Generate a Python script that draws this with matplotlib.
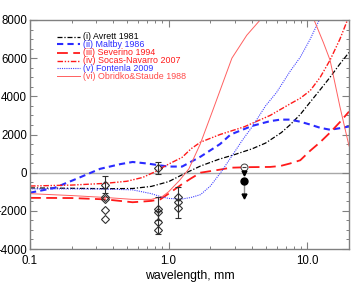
import numpy as np
import matplotlib
matplotlib.use('Agg')
import matplotlib.pyplot as plt
from matplotlib.ticker import MultipleLocator, LogLocator, NullFormatter

plt.rcParams['font.family'] = ['Liberation Sans', 'DejaVu Sans']

#####################################################################
# model curves (wavelength in mm)
#####################################################################
wl_avrett = [0.1, 0.2, 0.35, 0.55, 0.75, 1.0, 1.3, 1.7, 2.3, 3.0, 4.0, 5.0, 6.5, 7.5, 8.9, 10.5, 12.4, 14.6, 17.2, 20.0]
t_avrett = [-800, -820, -840, -830, -720, -470, -50, 350, 700, 950, 1250, 1550, 2100, 2500, 3050, 3700, 4350, 5000, 5700, 6300]

wl_maltby = [0.1, 0.15, 0.22, 0.32, 0.45, 0.55, 0.7, 0.87, 1.0, 1.25, 1.7, 2.35, 2.8, 4.0, 5.4, 6.4, 7.5, 8.9, 10.5, 12.4, 14.6, 17.2, 20.0]
t_maltby = [-1050, -800, -300, 200, 450, 560, 480, 380, 320, 320, 840, 1500, 2000, 2450, 2700, 2780, 2780, 2670, 2520, 2350, 2250, 2330, 2420]

wl_severino = [0.1, 0.2, 0.35, 0.55, 0.75, 0.87, 1.0, 1.25, 1.45, 1.7, 2.35, 2.8, 3.9, 5.4, 6.4, 7.5, 8.9, 10.5, 12.4, 14.6, 17.2, 20.0]
t_severino = [-1320, -1330, -1400, -1550, -1480, -1400, -1100, -600, -300, 0, 160, 260, 290, 300, 350, 480, 650, 1150, 1600, 2100, 2650, 3200]

wl_socas = [0.1, 0.2, 0.35, 0.5, 0.65, 0.8, 1.0, 1.25, 1.45, 1.7, 2.35, 3.5, 5.4, 7.5, 8.9, 10.5, 12.4, 14.6, 17.2, 20.0]
t_socas = [-700, -650, -560, -450, -250, 50, 450, 800, 1250, 1600, 2000, 2400, 3000, 3600, 3900, 4300, 5000, 5900, 7000, 8200]

wl_fontenla = [0.1, 0.2, 0.35, 0.55, 0.75, 0.87, 1.0, 1.25, 1.45, 1.7, 2.0, 2.4, 3.0, 3.4, 4.0, 5.0, 6.0, 7.5, 8.9, 10.5, 12.2, 14.0]
t_fontenla = [-850, -850, -860, -900, -1100, -1250, -1350, -1380, -1300, -1150, -700, 50, 1100, 1700, 2400, 3500, 4200, 5300, 6050, 7000, 8000, 9000]

wl_obridko = [0.1, 0.2, 0.35, 0.55, 0.75, 0.9, 1.0, 1.2, 1.4, 1.69, 2.09, 2.86, 3.66, 4.57, 6.0, 8.0, 10.0, 11.2, 13.1, 14.6, 17.2, 20.0]
t_obridko = [-1100, -1200, -1300, -1400, -1400, -1250, -1000, -400, 200, 1500, 3300, 6000, 7200, 8000, 8700, 8900, 8500, 8000, 6800, 5900, 3460, 1400]

labels = ['(i) Avrett 1981', '(ii) Maltby 1986', '(iii) Severino 1994',
          '(iv) Socas-Navarro 2007', '(v) Fontenla 2009', '(vi) Obridko&Staude 1988']

#####################################################################
# observations
#####################################################################
# open diamonds
wl_dia = [0.35, 0.35, 0.35, 0.35, 0.35, 0.84, 0.84, 0.84, 0.84, 0.84, 1.17, 1.17, 1.17]
t_dia = [-630, -1300, -1400, -1950, -2450, 250, -1900, -2050, -2600, -3000, -1250, -1550, -1830]
# points carrying error bars
wl_err = [0.35, 0.84, 0.84, 0.84, 1.17]
t_err = [-630, 250, -1900, -2600, -1550]
e_err = [440, 320, 600, 600, 800]
# 3.5 mm: filled circle with upper limit, open circle with upper limit
wl_lim = 3.5
t_filled = -420
t_filled_lim = -1240
t_open = 280
t_open_lim = -20

#####################################################################
# plotting
#####################################################################
fig = plt.figure(figsize=(3.64, 2.91), dpi=100)
ax = fig.add_axes([30/364., 1-249/291., 319/364., 229/291.])

ax.axhline(0, color='#a8a8a8', lw=1.0, zorder=1)

styles = [
    dict(color='black', lw=0.9, dashes=(4, 1.5, 1, 1.5)),
    dict(color='#2a2aff', lw=1.5, dashes=(3, 2)),
    dict(color='#ff1a1a', lw=1.3, dashes=(6, 3)),
    dict(color='#ff1a1a', lw=1.0, dashes=(4, 1.2, 1, 1.2, 1, 1.2)),
    dict(color='#4444ff', lw=0.8, dashes=(1, 1)),
    dict(color='#ff6060', lw=0.7),
]
curves = [(wl_avrett, t_avrett), (wl_maltby, t_maltby), (wl_severino, t_severino),
          (wl_socas, t_socas), (wl_fontenla, t_fontenla), (wl_obridko, t_obridko)]
text_colors = ['black', '#2a2aff', '#ff1a1a', '#ff1a1a', '#3333ff', '#ff4a4a']

for (wl, t), st in zip(curves, styles):
    ax.plot(wl, t, zorder=2, **st)

# observations
ax.errorbar(wl_err, t_err, yerr=e_err, fmt='none', ecolor='#303030', elinewidth=0.8,
            capsize=2, capthick=0.8, zorder=3)
ax.plot(wl_dia, t_dia, 'D', ms=4, mfc='none', mec='#303030', mew=0.8, zorder=4)

ax.plot([wl_lim, wl_lim], [t_filled, t_filled_lim], color='#909090', lw=1.0, zorder=3)
ax.plot(wl_lim, t_filled, 'o', ms=5, color='black', zorder=4)
ax.plot(wl_lim, t_filled_lim, 'v', ms=3.5, color='black', zorder=4)
ax.plot(wl_lim, t_open, 'o', ms=5, mfc='white', mec='#404040', mew=0.7, zorder=4)
ax.plot(wl_lim, t_open, '_', ms=3, color='#404040', mew=0.8, zorder=5)
ax.plot(wl_lim, t_open_lim, 'v', ms=3.5, color='black', zorder=4)

# legend, drawn by hand to get the tight row spacing
row_y = [0.927, 0.894, 0.858, 0.823, 0.789, 0.755]
for lab, st, tc, yy in zip(labels, styles, text_colors, row_y):
    ax.plot([0.085, 0.157], [yy, yy], transform=ax.transAxes, **st)
    ax.text(0.166, yy, lab, transform=ax.transAxes, color=tc, fontsize=6.4,
            va='center', ha='left')

ax.set_xscale('log')
ax.set_xlim(0.1, 20)
ax.set_ylim(-4000, 8000)
ax.set_xticks([0.1, 1, 10])
ax.set_xticklabels(['0.1', '1.0', '10.0'])
ax.xaxis.set_minor_locator(LogLocator(base=10, subs=np.arange(2, 10)))
ax.xaxis.set_minor_formatter(NullFormatter())
ax.yaxis.set_major_locator(MultipleLocator(2000))
ax.yaxis.set_minor_locator(MultipleLocator(500))

for sp in ax.spines.values():
    sp.set_color('#808080')
    sp.set_linewidth(1.0)
ax.tick_params(which='both', direction='in', top=True, right=True, color='#808080')
ax.tick_params(which='major', length=5, width=0.8, labelsize=8.3)
ax.tick_params(which='minor', length=2.5, width=0.7)
ax.tick_params(axis='x', which='major', pad=4.5)
ax.tick_params(axis='y', which='major', pad=2.2)

ax.set_xlabel('wavelength, mm', fontsize=8.8, labelpad=2)

plt.savefig('out.png', dpi=100)
plt.close()
